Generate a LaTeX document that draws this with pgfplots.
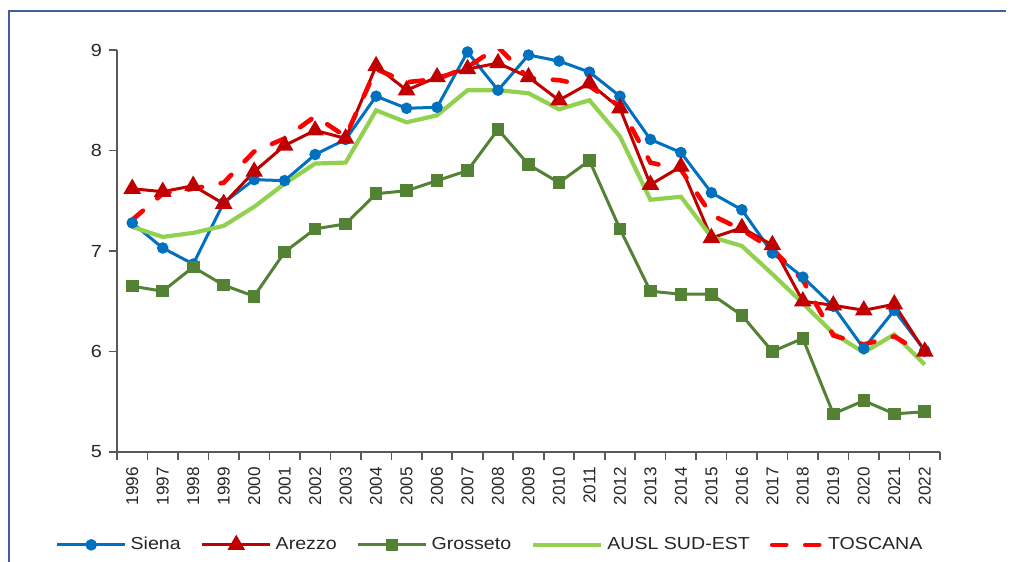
\documentclass[border=0pt]{standalone}
\usepackage{fontspec}
\setmainfont{Liberation Sans}
\newfontfamily\legfont{Liberation Sans}[FakeStretch=1.13]
\usepackage{pgfplots}
\usepackage{pgfplotstable}
\pgfplotsset{compat=1.18}
\definecolor{siena}{RGB}{0,112,192}
\definecolor{arezzo}{RGB}{192,0,0}
\definecolor{grosseto}{RGB}{84,130,53}
\definecolor{ausl}{RGB}{146,208,80}
\definecolor{toscana}{RGB}{255,0,0}
\definecolor{framec}{RGB}{65,95,155}
\definecolor{axisgray}{RGB}{89,89,89}
\definecolor{txt}{RGB}{38,38,38}
\pgfplotsset{dashlegend/.style={legend image code/.code={\draw[##1] (1.2bp,0bp) -- (26bp,0bp);}}}

\pgfplotstableread{
x siena arezzo grosseto ausl toscana
0 7.28 7.62 6.65 7.24 7.31
1 7.03 7.59 6.60 7.14 7.57
2 6.87 7.65 6.84 7.18 7.62
3 7.48 7.47 6.66 7.25 7.68
4 7.71 7.79 6.55 7.44 7.99
5 7.70 8.05 6.99 7.67 8.12
6 7.96 8.20 7.22 7.87 8.34
7 8.11 8.12 7.27 7.88 8.14
8 8.54 8.84 7.57 8.40 8.81
9 8.42 8.60 7.60 8.28 8.68
10 8.43 8.73 7.70 8.35 8.71
11 8.98 8.81 7.80 8.60 8.83
12 8.60 8.87 8.21 8.60 9.03
13 8.95 8.73 7.86 8.57 8.72
14 8.89 8.50 7.68 8.41 8.70
15 8.78 8.67 7.90 8.50 8.64
16 8.54 8.42 7.22 8.14 8.44
17 8.11 7.66 6.60 7.51 7.88
18 7.98 7.84 6.57 7.54 7.81
19 7.58 7.13 6.57 7.14 7.36
20 7.41 7.23 6.36 7.05 7.21
21 6.98 7.06 6.00 6.77 7.02
22 6.74 6.50 6.13 6.48 6.71
23 6.45 6.46 5.38 6.18 6.16
24 6.03 6.41 5.51 5.99 6.07
25 6.41 6.47 5.38 6.17 6.15
26 6.01 6.00 5.40 5.87 5.97
}\datatable

\begin{document}
\begin{tikzpicture}
\path[use as bounding box] (0,0) rectangle (505.5bp,281bp);
\draw[framec, line width=1.3bp] (4.5bp,0) -- (4.5bp,275.5bp) -- (503bp,275.5bp);
\begin{axis}[
  at={(58.5bp,55bp)}, anchor=south west,
  scale only axis, width=411.5bp, height=201bp,
  xmin=-0.5, xmax=26.5, ymin=5, ymax=9,
  axis x line*=bottom, axis y line*=left,
  axis line style={axisgray, line width=0.8bp},
  xtick={-0.5,0.5,...,26.5},
  x tick label as interval,
  xticklabels={1996,1997,1998,1999,2000,2001,2002,2003,2004,2005,2006,2007,2008,2009,2010,2011,2012,2013,2014,2015,2016,2017,2018,2019,2020,2021,2022},
  ytick={5,6,7,8,9},
  tick align=outside,
  major tick length=4bp,
  tick style={axisgray, line width=0.8bp},
  /pgf/number format/assume math mode=true,
  xticklabel style={rotate=90, anchor=east, font=\fontsize{8.6}{10}\selectfont, text=txt},
  yticklabel style={font=\legfont\fontsize{8.8}{10}\selectfont, text=txt},
  legend columns=5,
  legend style={at={(0.4545,-0.231)}, anchor=center, draw=none, fill=none,
    font=\legfont\fontsize{8.7}{10}\selectfont, text=txt,
    /tikz/every even column/.append style={column sep=8bp}},
  legend image code/.code={\draw[mark repeat=2,mark phase=2,#1] plot coordinates {(0bp,0bp) (17bp,0bp) (34bp,0bp)};},
]
\addplot[siena, line width=1.5bp, mark=*, mark size=2.1bp, mark options={solid}] table[x=x,y=siena] {\datatable};
\addlegendentry{Siena}
\addplot[arezzo, line width=1.5bp, mark=triangle*, mark size=3.6bp, mark options={solid}] table[x=x,y=arezzo] {\datatable};
\addlegendentry{Arezzo}
\addplot[grosseto, line width=1.5bp, mark=square*, mark size=2.4bp, mark options={solid}] table[x=x,y=grosseto] {\datatable};
\addlegendentry{Grosseto}
\addplot[ausl, line width=2.1bp, mark=none] table[x=x,y=ausl] {\datatable};
\addlegendentry{AUSL SUD-EST}
\addplot[toscana, line width=2.3bp, mark=none, dash pattern=on 7bp off 9.5bp, line cap=round, dashlegend] table[x=x,y=toscana] {\datatable};
\addlegendentry{TOSCANA}
\end{axis}
\end{tikzpicture}
\end{document}
